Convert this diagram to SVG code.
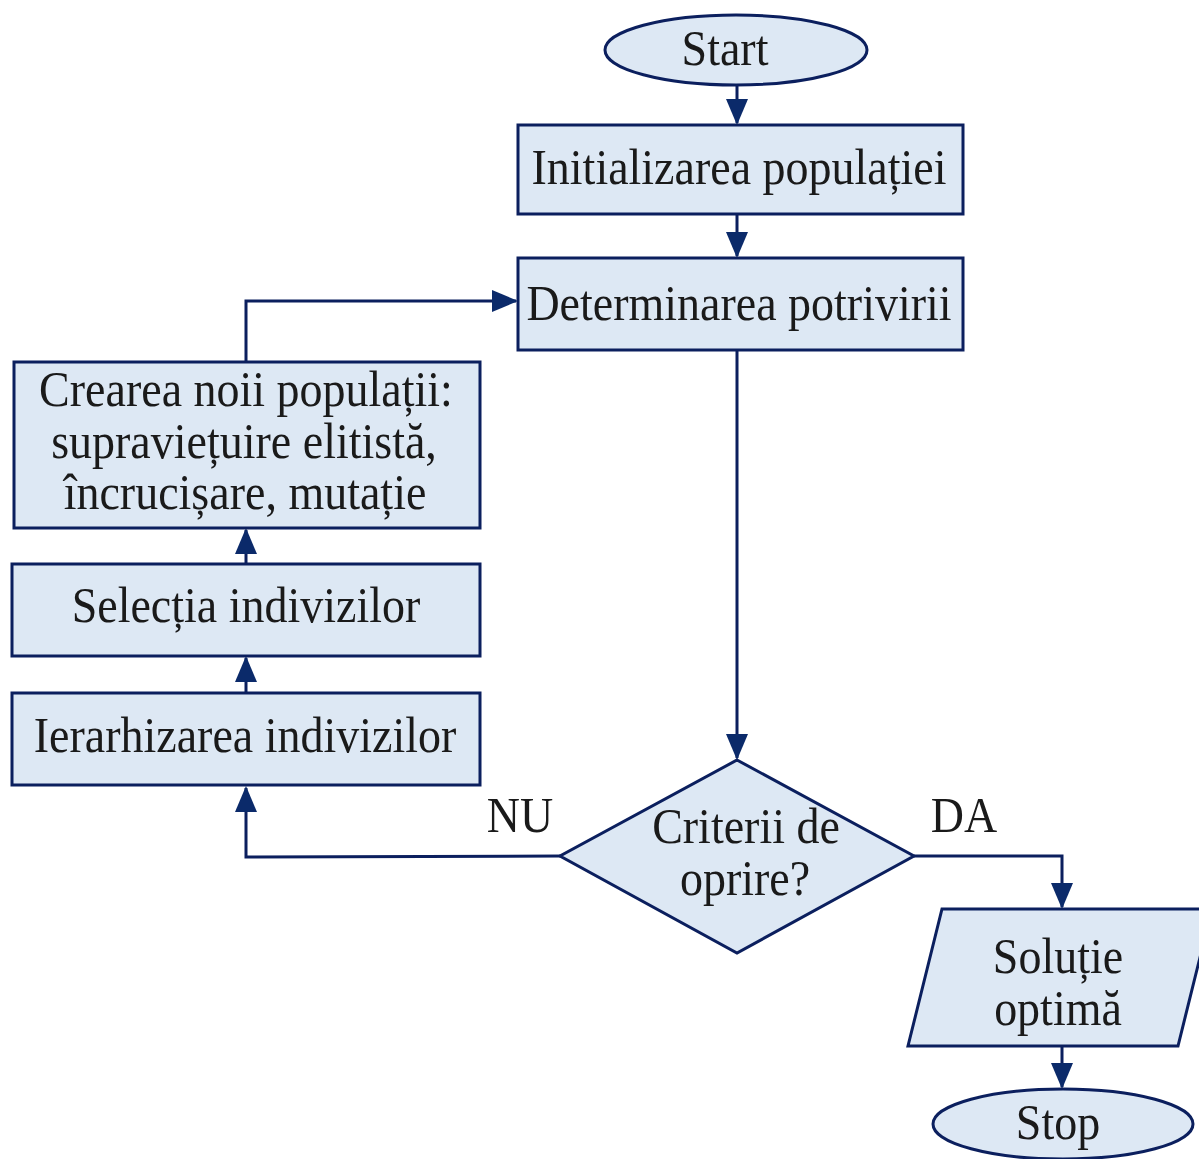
<svg xmlns="http://www.w3.org/2000/svg" width="1199" height="1159" viewBox="0 0 1199 1159">
<style>
.n{fill:#dde8f4;stroke:#0b1f5e;stroke-width:3}
.t{font-family:"Liberation Serif","Times New Roman",serif;font-size:46px;fill:#1a1a1a;text-anchor:middle}
.c{fill:none;stroke:#0b1f5e;stroke-width:3}
</style>
<defs>
<marker id="ah" markerUnits="userSpaceOnUse" markerWidth="26" markerHeight="26" viewBox="0 0 26 26" refX="24" refY="13" orient="auto">
<path d="M0,2 L26,13 L0,24 Z" fill="#0b2a6a"/>
</marker>
</defs>
<rect width="1199" height="1159" fill="#fff"/>
<g id="connectors">
<line class="c" x1="737" y1="85" x2="737" y2="123" marker-end="url(#ah)"/>
<line class="c" x1="737" y1="214" x2="737" y2="256" marker-end="url(#ah)"/>
<line class="c" x1="737" y1="350" x2="737" y2="758" marker-end="url(#ah)"/>
<polyline class="c" points="560,856 246,857 246,788" marker-end="url(#ah)"/>
<line class="c" x1="246" y1="693" x2="246" y2="658" marker-end="url(#ah)"/>
<line class="c" x1="246" y1="564" x2="246" y2="530" marker-end="url(#ah)"/>
<polyline class="c" points="246,362 246,301 516,301" marker-end="url(#ah)"/>
<polyline class="c" points="914,856 1062,856 1062,907" marker-end="url(#ah)"/>
<line class="c" x1="1062" y1="1046" x2="1062" y2="1087" marker-end="url(#ah)"/>
</g>
<g id="start">
<ellipse class="n" cx="736" cy="50" rx="131" ry="35"/>
<text class="t" transform="matrix(1,0,0,1.1,725,65)">Start</text>
</g>
<g id="init">
<rect class="n" x="518" y="125" width="445" height="89"/>
<text class="t" transform="matrix(1,0,0,1.1,739,184)">Initializarea populației</text>
</g>
<g id="fitness">
<rect class="n" x="518" y="258" width="445" height="92"/>
<text class="t" transform="matrix(1,0,0,1.1,739,320)">Determinarea potrivirii</text>
</g>
<g id="decision">
<polygon class="n" points="737,760 914,856 737,953 560,856"/>
<text class="t" transform="matrix(1,0,0,1.1,746,843)">Criterii de</text>
<text class="t" transform="matrix(1,0,0,1.1,745,895)">oprire?</text>
</g>
<g id="label-nu"><text class="t" transform="matrix(1,0,0,1.1,520,832)">NU</text></g>
<g id="label-da"><text class="t" transform="matrix(1,0,0,1.1,964,832)">DA</text></g>
<g id="rank">
<rect class="n" x="12" y="693" width="468" height="92"/>
<text class="t" transform="matrix(1,0,0,1.1,245,752)">Ierarhizarea indivizilor</text>
</g>
<g id="select">
<rect class="n" x="12" y="564" width="468" height="92"/>
<text class="t" transform="matrix(1,0,0,1.1,246,622)">Selecția indivizilor</text>
</g>
<g id="newpop">
<rect class="n" x="14" y="362" width="466" height="166"/>
<text class="t" transform="matrix(1,0,0,1.1,246,406)">Crearea noii populații:</text>
<text class="t" transform="matrix(1,0,0,1.1,244,458)">supraviețuire elitistă,</text>
<text class="t" transform="matrix(1,0,0,1.1,245,509)">încrucișare, mutație</text>
</g>
<g id="solution">
<polygon class="n" points="942,909 1212,909 1178,1046 908,1046"/>
<text class="t" transform="matrix(1,0,0,1.1,1058,973)">Soluție</text>
<text class="t" transform="matrix(1,0,0,1.1,1058,1025)">optimă</text>
</g>
<g id="stop">
<ellipse class="n" cx="1063" cy="1124" rx="130" ry="35"/>
<text class="t" transform="matrix(1,0,0,1.1,1058,1139)">Stop</text>
</g>
</svg>
